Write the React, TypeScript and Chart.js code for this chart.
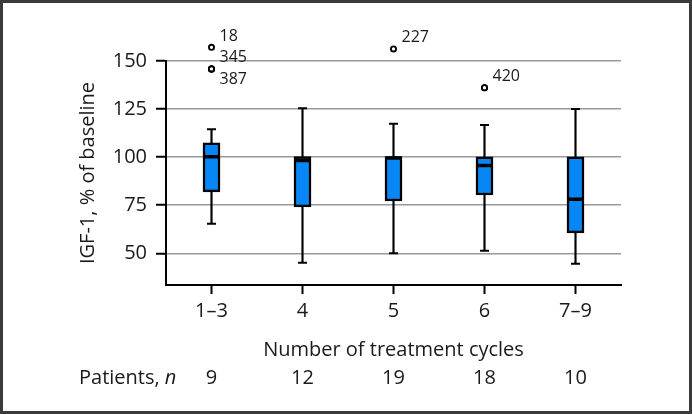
import React, { useEffect, useRef } from "react";
import { Chart, registerables } from "chart.js";

Chart.register(...registerables);

const categories = ["1–3", "4", "5", "6", "7–9"];
const whiskerLow = [65.4, 45.1, 50, 51.3, 44.6];
const q1 = [81.9, 74.1, 77.2, 80.3, 60.6];
const median = [100.2, 98.3, 99.6, 95.6, 78.1];
const q3 = [107.5, 100.3, 100.3, 100.1, 100.1];
const whiskerHigh = [114.5, 125.4, 117.3, 116.7, 125.1];
const outlierCategory = ["1–3", "1–3", "1–3", "5", "6"];
const outlierValue = [157.1, 145.9, 145.9, 156.3, 136.1];
const outlierLabel = ["18", "345", "387", "227", "420"];
const outlierLabelSide = ["above", "above", "below", "above", "above"];
const patients = [9, 12, 19, 18, 10];
const yTicks = [50, 75, 100, 125, 150];

const FONT = "'Open Sans', 'Noto Sans', sans-serif";
const TEXT = "#1a1a1a";
const FS = 20;

export default function App() {
  const ref = useRef<HTMLCanvasElement | null>(null);

  useEffect(() => {
    document.body.style.margin = "0";
    const canvas = ref.current;
    if (!canvas) return;

    const borderPlugin = {
      id: "frameBorder",
      afterDraw(chart: any) {
        const ctx = chart.ctx;
        ctx.save();
        ctx.strokeStyle = "#3a3a3a";
        ctx.lineWidth = 3;
        ctx.strokeRect(1.5, 1.5, chart.width - 3, chart.height - 3);
        ctx.restore();
      },
    };

    const outlierLabelPlugin = {
      id: "outlierLabels",
      afterDatasetsDraw(chart: any) {
        const meta = chart.getDatasetMeta(5);
        const ctx = chart.ctx;
        const fullArea = { left: 0, top: 0, right: chart.width, bottom: chart.height };
        ctx.save();
        meta.data.forEach((pt: any) => {
          pt.draw(ctx, fullArea);
        });
        ctx.font = `16px ${FONT}`;
        ctx.fillStyle = TEXT;
        ctx.textAlign = "left";
        ctx.textBaseline = "middle";
        meta.data.forEach((pt: any, i: number) => {
          const dy = outlierLabelSide[i] === "below" ? 11 : -11;
          ctx.fillText(outlierLabel[i], pt.x + 8, pt.y + dy);
        });
        ctx.restore();
      },
    };

    const patientsPlugin = {
      id: "patientsRow",
      afterDraw(chart: any) {
        const ctx = chart.ctx;
        const xs = chart.scales.x;
        ctx.save();
        ctx.fillStyle = TEXT;
        ctx.textBaseline = "alphabetic";
        ctx.font = `${FS}px ${FONT}`;
        ctx.textAlign = "left";
        const lead = "Patients, ";
        ctx.fillText(lead, 79, 384);
        const w = ctx.measureText(lead).width;
        ctx.font = `italic ${FS}px ${FONT}`;
        ctx.fillText("n", 79 + w, 384);
        ctx.font = `${FS}px ${FONT}`;
        ctx.textAlign = "center";
        patients.forEach((p, i) => {
          ctx.fillText(String(p), xs.getPixelForValue(i), 384);
        });
        ctx.restore();
      },
    };

    const chart = new Chart(canvas, {
      type: "bar",
      data: {
        labels: categories,
        datasets: [
          {
            type: "bar",
            data: whiskerLow.map((v, i) => [v, whiskerHigh[i]]),
            backgroundColor: "#000",
            borderWidth: 0,
            barThickness: 1.5,
            grouped: false,
            order: 6,
          } as any,
          {
            type: "line",
            data: whiskerLow,
            showLine: false,
            pointStyle: "line",
            pointRadius: 4.5,
            pointBorderWidth: 2,
            pointBorderColor: "#000",
            order: 5,
          } as any,
          {
            type: "line",
            data: whiskerHigh,
            showLine: false,
            pointStyle: "line",
            pointRadius: 4.5,
            pointBorderWidth: 2,
            pointBorderColor: "#000",
            order: 5,
          } as any,
          {
            type: "bar",
            data: q1.map((v, i) => [v, q3[i]]),
            backgroundColor: "#0787f5",
            borderColor: "#000",
            borderWidth: 2.5,
            borderSkipped: false,
            barThickness: 17,
            grouped: false,
            order: 4,
          } as any,
          {
            type: "line",
            data: median,
            showLine: false,
            pointStyle: "line",
            pointRadius: 8,
            pointBorderWidth: 3.5,
            pointBorderColor: "#000",
            order: 3,
          } as any,
          {
            type: "line",
            data: outlierValue.map((v, i) => ({ x: outlierCategory[i], y: v })),
            showLine: false,
            pointStyle: "circle",
            pointRadius: 2.6,
            pointBorderWidth: 1.8,
            pointBorderColor: "#000",
            pointBackgroundColor: "#fff",
            clip: false,
            order: 1,
          } as any,
        ],
      },
      options: {
        responsive: false,
        animation: false,
        layout: { padding: { left: 76, right: 71, top: 61, bottom: 52 } },
        plugins: {
          legend: { display: false },
          tooltip: { enabled: false },
        },
        scales: {
          x: {
            type: "category",
            offset: true,
            afterFit(scale: any) {
              scale.height = 414 - 52 - 285;
            },
            grid: {
              offset: false,
              drawOnChartArea: false,
              drawTicks: true,
              tickLength: 9,
              tickColor: "#000",
              tickWidth: 2,
            },
            border: { color: "#000", width: 2 },
            ticks: {
              color: TEXT,
              font: { family: FONT, size: FS },
              padding: 5,
              maxRotation: 0,
            },
            title: {
              display: true,
              text: "Number of treatment cycles",
              color: TEXT,
              font: { family: FONT, size: FS },
              padding: 0,
            },
          },
          y: {
            type: "linear",
            min: 33.5,
            max: 150,
            afterFit(scale: any) {
              scale.width = 166 - 76;
            },
            afterBuildTicks(scale: any) {
              scale.ticks = yTicks.map((v) => ({ value: v }));
            },
            grid: {
              color: "#9a9a9a",
              lineWidth: 1.5,
              drawTicks: true,
              tickLength: 10,
              tickColor: "#000",
              tickWidth: 2,
            },
            border: { color: "#000", width: 2 },
            ticks: {
              color: TEXT,
              font: { family: FONT, size: FS },
              padding: 9,
              includeBounds: false,
            },
            title: {
              display: true,
              text: "IGF-1, % of baseline",
              color: TEXT,
              font: { family: FONT, size: FS },
              padding: 0,
            },
          },
        },
      },
      plugins: [outlierLabelPlugin, patientsPlugin, borderPlugin],
    });

    return () => chart.destroy();
  }, []);

  return <canvas ref={ref} width={692} height={414} style={{ display: "block" }} />;
}
